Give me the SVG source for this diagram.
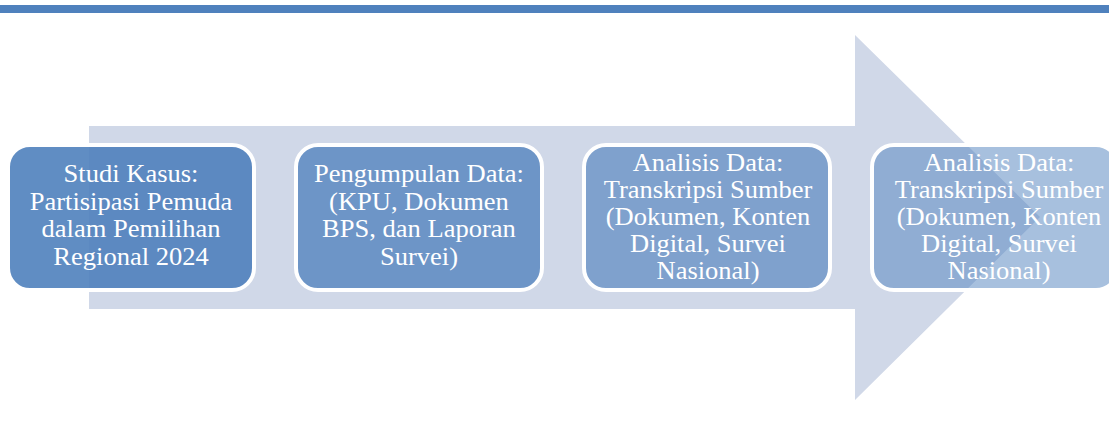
<svg xmlns="http://www.w3.org/2000/svg" width="1109" height="423" viewBox="0 0 1109 423">
<style>
.node{fill:#4f81bd;stroke:#ffffff;stroke-width:4}
.t{font-family:"Liberation Serif","Times New Roman",serif;fill:#ffffff;text-anchor:middle}
.t4{font-size:24.8px}
.t5{font-size:24.3px}
</style>
<rect x="0" y="0" width="1109" height="423" fill="#ffffff"/>
<rect x="0" y="5" width="1109" height="8" fill="#4f81bd"/>
<g id="connectors">
<polygon points="89,126 855,126 855,35 1040,217 855,400 855,309 89,309" fill="#d0d8e8"/>
</g>
<g id="node1">
<rect class="node" x="8" y="145" width="246" height="145" rx="22" fill-opacity="0.9"/>
<g class="t t4" transform="translate(131,0) scale(1.07,1)">
<text x="0" y="182.5">Studi Kasus:</text>
<text x="0" y="210">Partisipasi Pemuda</text>
<text x="0" y="237.5">dalam Pemilihan</text>
<text x="0" y="265">Regional 2024</text>
</g>
</g>
<g id="node2">
<rect class="node" x="296" y="145" width="246" height="145" rx="22" fill-opacity="0.77"/>
<g class="t t4" transform="translate(419,0) scale(1.07,1)">
<text x="0" y="182.5">Pengumpulan Data:</text>
<text x="0" y="210">(KPU, Dokumen</text>
<text x="0" y="237.5">BPS, dan Laporan</text>
<text x="0" y="265">Survei)</text>
</g>
</g>
<g id="node3">
<rect class="node" x="584" y="145" width="246" height="145" rx="22" fill-opacity="0.63"/>
<g class="t t5" transform="translate(708,0) scale(1.09,1)">
<text x="0" y="171">Analisis Data:</text>
<text x="0" y="198">Transkripsi Sumber</text>
<text x="0" y="225">(Dokumen, Konten</text>
<text x="0" y="252">Digital, Survei</text>
<text x="0" y="279">Nasional)</text>
</g>
</g>
<g id="node4">
<rect class="node" x="872" y="145" width="246" height="145" rx="22" fill-opacity="0.5"/>
<g class="t t5" transform="translate(999,0) scale(1.09,1)">
<text x="0" y="171">Analisis Data:</text>
<text x="0" y="198">Transkripsi Sumber</text>
<text x="0" y="225">(Dokumen, Konten</text>
<text x="0" y="252">Digital, Survei</text>
<text x="0" y="279">Nasional)</text>
</g>
</g>
</svg>
